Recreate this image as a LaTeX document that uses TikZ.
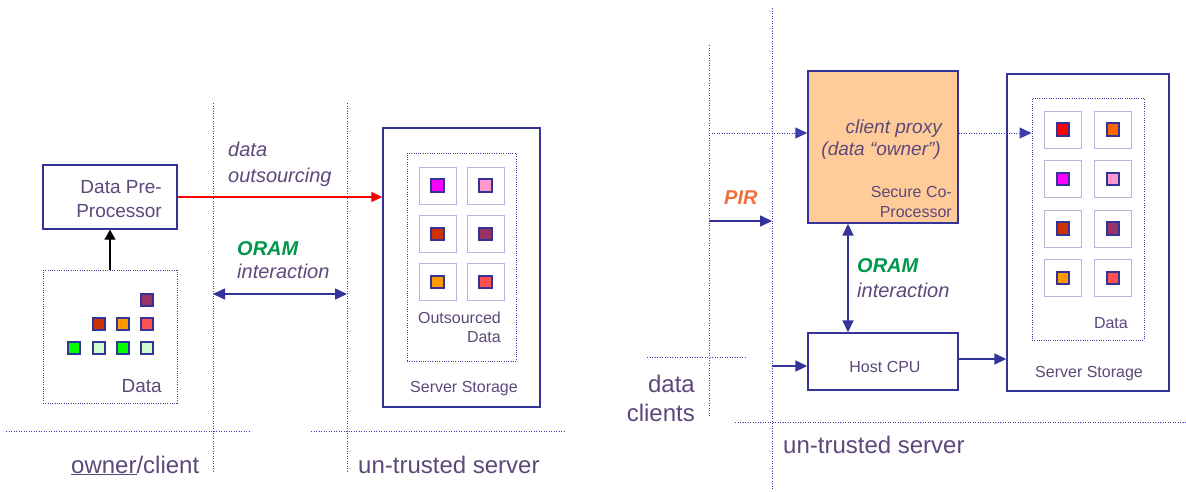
\documentclass[tikz,border=0pt]{standalone}
\usepackage{fontspec}
\setmainfont{Liberation Sans}
\usetikzlibrary{arrows.meta}

\definecolor{ink}{RGB}{92,72,122}
\definecolor{navy}{RGB}{51,51,153}
\definecolor{guidec}{RGB}{60,60,170}
\definecolor{oramgreen}{RGB}{0,150,75}
\definecolor{pirorange}{RGB}{240,112,60}
\definecolor{proxyfill}{RGB}{255,204,153}
\definecolor{cellline}{RGB}{182,182,218}
\definecolor{cMagenta}{RGB}{255,0,255}
\definecolor{cPink}{RGB}{255,153,204}
\definecolor{cBrick}{RGB}{204,51,0}
\definecolor{cPlum}{RGB}{153,51,102}
\definecolor{cAmber}{RGB}{255,153,0}
\definecolor{cCoral}{RGB}{255,80,80}
\definecolor{cRed}{RGB}{255,0,0}
\definecolor{cOrange}{RGB}{255,102,0}
\definecolor{cGreen}{RGB}{0,255,0}
\definecolor{cMint}{RGB}{204,255,204}

\tikzset{
  guide/.style={guidec, line width=0.9pt, dash pattern=on 0.9pt off 1.6pt},
  solidbox/.style={draw=navy, line width=1.4pt, inner sep=0pt},
  dotbox/.style={draw=guidec, line width=0.9pt, dash pattern=on 0.9pt off 1.4pt, inner sep=0pt},
  cell/.style={draw=cellline, line width=1pt, minimum size=37pt, inner sep=0pt},
  chip/.style={draw=navy, line width=1.6pt, minimum size=12.5pt, inner sep=0pt},
  txt/.style={text=ink, inner sep=0pt, font=\fontsize{19}{23}\selectfont},
  txtit/.style={txt, font=\fontsize{20}{24}\selectfont\itshape},
  proxyit/.style={txt, font=\fontsize{19}{23}\selectfont\itshape},
  txtsm/.style={text=ink, inner sep=0pt, font=\fontsize{16}{20}\selectfont},
  txtbig/.style={text=ink, inner sep=0pt, font=\fontsize{24}{29}\selectfont},
  keyword/.style={inner sep=0pt, font=\fontsize{20}{24}\selectfont\bfseries\itshape},
  bluetip/.style={-{Triangle[length=12pt,width=11pt]}},
  bluetips/.style={{Triangle[length=12pt,width=11pt]}-{Triangle[length=12pt,width=11pt]}},
  link/.style={navy, line width=1.6pt},
}

\begin{document}
\begin{tikzpicture}[x=1pt,y=-1pt]
\useasboundingbox (0,0) rectangle (1186,491);

% ---------------- left scenario: owner/client and un-trusted server ----------------
% separators
\coordinate (gA1) at (213,103); \coordinate (gA2) at (213,471);
\coordinate (gB1) at (347,103); \coordinate (gB2) at (347,471);
\coordinate (hA1) at (6,431);   \coordinate (hA2) at (250,431);
\coordinate (hB1) at (311,431); \coordinate (hB2) at (565,431);
\draw[guide] (gA1) -- (gA2);
\draw[guide] (gB1) -- (gB2);
\draw[guide] (hA1) -- (hA2);
\draw[guide] (hB1) -- (hB2);

% data pre-processor
\node[solidbox, minimum width=134pt, minimum height=64pt] (pre) at (110,197) {};
\node[txt, anchor=base east] (preA) at (162,193) {Data Pre-};
\node[txt, anchor=base east] (preB) at (162,217) {Processor};

% raw data
\node[dotbox, minimum width=134pt, minimum height=133pt] (rawdata) at (110,336.5) {};
\node[chip, fill=cPlum]  (r1) at (147,300) {};
\node[chip, fill=cBrick] (r2) at (99,324) {};
\node[chip, fill=cAmber] (r3) at (123,324) {};
\node[chip, fill=cCoral] (r4) at (147,324) {};
\node[chip, fill=cGreen] (r5) at (74,348) {};
\node[chip, fill=cMint]  (r6) at (99,348) {};
\node[chip, fill=cGreen] (r7) at (123,348) {};
\node[chip, fill=cMint]  (r8) at (147,348) {};
\node[txt, anchor=base east] (rawlbl) at (162,392) {Data};

\draw[black, line width=1.3pt, -{Triangle[length=10pt,width=11pt]}] (rawdata.north) -- (pre.south);

% server storage (left)
\node[solidbox, minimum width=157pt, minimum height=279pt] (storeL) at (461.5,267.5) {};
\node[dotbox, minimum width=109pt, minimum height=208pt] (outL) at (461.5,257) {};
\foreach \x/\y/\c [count=\i] in {437.5/185.5/cMagenta, 485.5/185.5/cPink,
                                  437.5/234/cBrick,    485.5/234/cPlum,
                                  437.5/282/cAmber,    485.5/282/cCoral}{
  \node[cell] (lc\i) at (\x,\y) {};
  \node[chip, fill=\c] (lk\i) at (lc\i) {};
}
\node[txtsm, anchor=base east] (outA) at (501,323) {Outsourced};
\node[txtsm, anchor=base east] (outB) at (501,342) {Data};
\node[txtsm, anchor=base west] (storeLlbl) at (410,392) {Server Storage};

% outsourcing arrow
\draw[red, line width=1.1pt, -{Triangle[length=11pt,width=10pt]}] (pre.east) -- (pre.east -| storeL.west);
\node[txtit, anchor=base west] (outsA) at (228,156) {data};
\node[txtit, anchor=base west] (outsB) at (228,182) {outsourcing};

% ORAM interaction (left)
\coordinate (oA) at (213,294); \coordinate (oB) at (347,294);
\draw[link, bluetips] (oA) -- (oB);
\node[keyword, text=oramgreen, anchor=base west] (oramL) at (237,255) {ORAM};
\node[txtit, anchor=base west] (interL) at (237,278) {interaction};

% domain labels
\node[txtbig, anchor=base west] (ownerlbl) at (71,473) {\underline{owner}/client};
\node[txtbig, anchor=base west] (serverL) at (358,473) {un-trusted server};

% ---------------- right scenario: secure co-processor as client proxy ----------------
\coordinate (gC1) at (772,8);   \coordinate (gC2) at (772,490);
\coordinate (gD1) at (709,45);  \coordinate (gD2) at (709,417);
\coordinate (hC1) at (647,357); \coordinate (hC2) at (745,357);
\coordinate (hD1) at (735,422); \coordinate (hD2) at (1186,422);
\draw[guide] (gC1) -- (gC2);
\draw[guide] (gD1) -- (gD2);
\draw[guide] (hC1) -- (hC2);
\draw[guide] (hD1) -- (hD2);

% secure co-processor
\node[solidbox, fill=proxyfill, minimum width=150pt, minimum height=152pt] (proxy) at (883,147) {};
\node[proxyit, anchor=base east] (proxA) at (942,133) {client proxy};
\node[proxyit, anchor=base east] (proxB) at (941,155) {(data “owner”)};
\node[txtsm, anchor=base east] (scpA) at (952,197) {Secure Co-};
\node[txtsm, anchor=base east] (scpB) at (952,217) {Processor};

% host CPU
\node[solidbox, fill=white, minimum width=150pt, minimum height=57pt] (host) at (883,361.5) {};
\node[txtsm, anchor=base] (hostlbl) at (885,372) {Host CPU};

% server storage (right)
\node[solidbox, minimum width=162pt, minimum height=317pt] (storeR) at (1088,232.5) {};
\node[dotbox, minimum width=112pt, minimum height=242pt] (dataR) at (1088,219) {};
\foreach \x/\y/\c [count=\i] in {1063/129.5/cRed,   1113/129.5/cOrange,
                                  1063/179/cMagenta, 1113/179/cPink,
                                  1063/228.5/cBrick, 1113/228.5/cPlum,
                                  1063/278/cAmber,   1113/278/cCoral}{
  \node[cell] (rc\i) at (\x,\y) {};
  \node[chip, fill=\c] (rk\i) at (rc\i) {};
}
\node[txtsm, anchor=base east] (dataRlbl) at (1128,328) {Data};
\node[txtsm, anchor=base west] (storeRlbl) at (1035,377) {Server Storage};

% request paths
\coordinate (reqIn) at (709,133);
\draw[guide, bluetip] (reqIn) -- (reqIn -| proxy.west);
\draw[guide, bluetip] (proxy.east |- reqIn) -- (reqIn -| dataR.west);

\coordinate (pirA) at (709,221); \coordinate (pirB) at (772,221);
\draw[link, bluetip] (pirA) -- (pirB);
\node[keyword, text=pirorange, anchor=base west] (pirlbl) at (724,204) {PIR};

\coordinate (hostIn) at (772,366);
\draw[link, bluetip] (hostIn) -- (hostIn -| host.west);
\coordinate (hostOut) at (958,359);
\draw[link, bluetip] (host.east |- hostOut) -- (hostOut -| storeR.west);

% ORAM interaction (right)
\draw[link, bluetips] (proxy.south -| 848,0) -- (host.north -| 848,0);
\node[keyword, text=oramgreen, anchor=base west] (oramR) at (857,272) {ORAM};
\node[txtit, anchor=base west] (interR) at (857,297) {interaction};

% domain labels
\node[txtbig, anchor=base east] (clA) at (695,392) {data};
\node[txtbig, anchor=base east] (clB) at (695,421) {clients};
\node[txtbig, anchor=base west] (serverR) at (783,453) {un-trusted server};
\end{tikzpicture}
\end{document}
